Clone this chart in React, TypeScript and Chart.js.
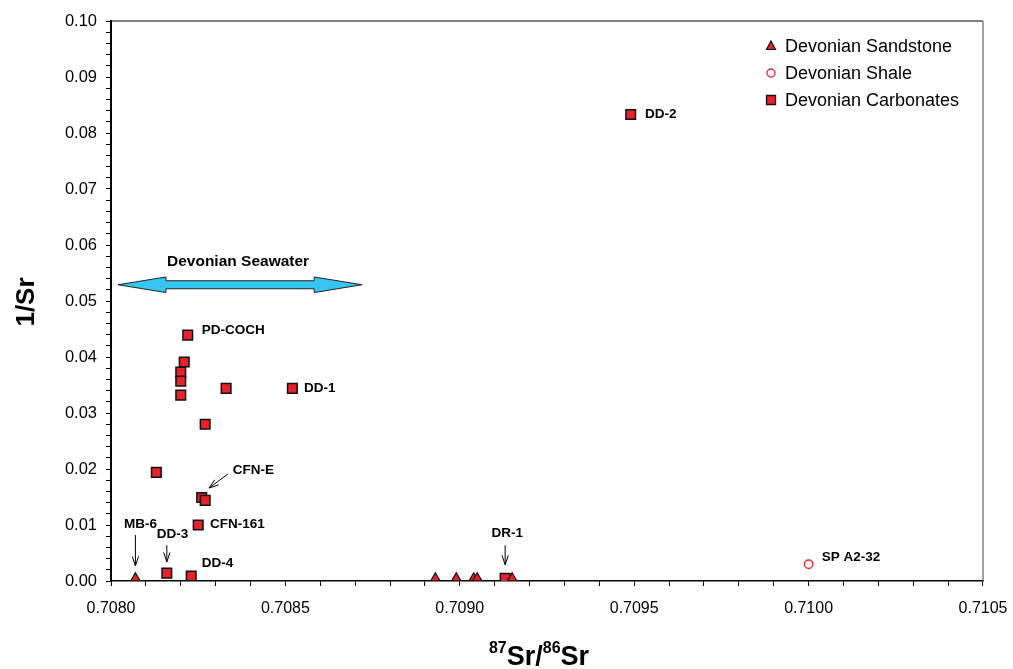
import React, { useEffect, useRef } from 'react';
import { Chart, registerables } from 'chart.js';

Chart.register(...registerables);

// ---- data ----
const sandstoneX = [0.70807, 0.70893, 0.70899, 0.70904, 0.70905, 0.70915];
const sandstoneY = [0.0005, 0.0005, 0.0005, 0.0005, 0.0005, 0.0005];

const shaleX = [0.7100];
const shaleY = [0.0030];

const carbonateX = [0.70822, 0.70821, 0.70820, 0.70820, 0.70820, 0.70833, 0.70852, 0.70827, 0.70813, 0.70826, 0.70827, 0.70825, 0.70816, 0.70823, 0.70949, 0.70913];
const carbonateY = [0.0439, 0.0391, 0.0373, 0.0357, 0.0332, 0.0344, 0.0344, 0.0280, 0.0194, 0.0149, 0.0144, 0.0100, 0.0014, 0.0009, 0.0833, 0.0005];

const seriesNames = ['Devonian Sandstone', 'Devonian Shale', 'Devonian Carbonates'];

const xTickLabels = ['0.7080', '0.7085', '0.7090', '0.7095', '0.7100', '0.7105'];
const yTickLabels = ['0.00', '0.01', '0.02', '0.03', '0.04', '0.05', '0.06', '0.07', '0.08', '0.09', '0.10'];

// point labels (text, anchored left at data coordinate)
const labelTexts = ['PD-COCH', 'DD-1', 'DD-2', 'CFN-E', 'CFN-161', 'MB-6', 'DD-3', 'DD-4', 'DR-1', 'SP A2-32'];
const labelX = [0.70826, 0.708553, 0.709531, 0.708349, 0.708284, 0.708037, 0.708131, 0.70826, 0.709091, 0.710038];
const labelY = [0.0448, 0.0345, 0.0833, 0.0197, 0.0102, 0.0101, 0.0084, 0.0032, 0.0085, 0.0043];

// pointer arrows (start -> end, data coordinates)
const arrowX1 = [0.708335, 0.70807, 0.70816, 0.70913];
const arrowY1 = [0.0191, 0.0082, 0.0064, 0.0064];
const arrowX2 = [0.708281, 0.70807, 0.70816, 0.70913];
const arrowY2 = [0.0166, 0.0027, 0.0034, 0.0029];

// Devonian seawater range
const seawaterText = 'Devonian Seawater';
const seawaterX = [0.70802, 0.70872];
const seawaterY = 0.0529;
const seawaterTextY = 0.0571;

const RED = '#E8212B';
const FONT = "'Liberation Sans', Arial, sans-serif";

function drawPointerArrow(ctx: CanvasRenderingContext2D, x1: number, y1: number, x2: number, y2: number) {
  ctx.save();
  ctx.strokeStyle = '#000';
  ctx.lineWidth = 1;
  ctx.beginPath();
  ctx.moveTo(x1, y1);
  ctx.lineTo(x2, y2);
  ctx.stroke();
  const ang = Math.atan2(y2 - y1, x2 - x1);
  const len = 10;
  const spread = 0.32;
  ctx.beginPath();
  ctx.moveTo(x2 - len * Math.cos(ang - spread), y2 - len * Math.sin(ang - spread));
  ctx.lineTo(x2, y2);
  ctx.lineTo(x2 - len * Math.cos(ang + spread), y2 - len * Math.sin(ang + spread));
  ctx.stroke();
  ctx.restore();
}

const decorPlugin = {
  id: 'decor',
  afterDraw(chart: any) {
    const { ctx, chartArea: a, scales } = chart;
    const xs = scales.x;
    const ys = scales.y;
    ctx.save();

    // frame top & right
    ctx.lineWidth = 1.2;
    ctx.strokeStyle = '#000';
    ctx.beginPath();
    ctx.moveTo(a.left, a.top);
    ctx.lineTo(a.right, a.top);
    ctx.stroke();
    ctx.strokeStyle = '#666';
    ctx.beginPath();
    ctx.moveTo(a.right, a.top);
    ctx.lineTo(a.right, a.bottom);
    ctx.stroke();

    // seawater double arrow
    const xl = xs.getPixelForValue(seawaterX[0]);
    const xr = xs.getPixelForValue(seawaterX[1]);
    const yc = ys.getPixelForValue(seawaterY);
    const head = 48;
    const hh = 7.8;
    const sh = 4;
    ctx.beginPath();
    ctx.moveTo(xl, yc);
    ctx.lineTo(xl + head, yc - hh);
    ctx.lineTo(xl + head, yc - sh);
    ctx.lineTo(xr - head, yc - sh);
    ctx.lineTo(xr - head, yc - hh);
    ctx.lineTo(xr, yc);
    ctx.lineTo(xr - head, yc + hh);
    ctx.lineTo(xr - head, yc + sh);
    ctx.lineTo(xl + head, yc + sh);
    ctx.lineTo(xl + head, yc + hh);
    ctx.closePath();
    ctx.fillStyle = '#35C5F0';
    ctx.fill();
    ctx.strokeStyle = '#222';
    ctx.lineWidth = 1;
    ctx.stroke();

    ctx.fillStyle = '#000';
    ctx.font = `bold 15.5px ${FONT}`;
    ctx.textAlign = 'center';
    ctx.textBaseline = 'middle';
    ctx.fillText(seawaterText, (xl + xr) / 2 - 2, ys.getPixelForValue(seawaterTextY));

    // point labels
    ctx.font = `bold 13.5px ${FONT}`;
    ctx.textAlign = 'left';
    for (let i = 0; i < labelTexts.length; i++) {
      ctx.fillText(labelTexts[i], xs.getPixelForValue(labelX[i]), ys.getPixelForValue(labelY[i]));
    }

    // pointer arrows
    for (let i = 0; i < arrowX1.length; i++) {
      drawPointerArrow(
        ctx,
        xs.getPixelForValue(arrowX1[i]),
        ys.getPixelForValue(arrowY1[i]),
        xs.getPixelForValue(arrowX2[i]),
        ys.getPixelForValue(arrowY2[i])
      );
    }

    // legend
    const lx = a.right - 212;
    const tx = a.right - 198;
    const ly = [a.top + 25, a.top + 52, a.top + 79];
    ctx.font = `18px ${FONT}`;
    ctx.textAlign = 'left';
    ctx.textBaseline = 'middle';
    for (let i = 0; i < seriesNames.length; i++) {
      ctx.fillStyle = '#000';
      ctx.fillText(seriesNames[i], tx, ly[i] + 1);
    }
    // triangle
    ctx.lineWidth = 1.2;
    ctx.beginPath();
    ctx.moveTo(lx, ly[0] - 5);
    ctx.lineTo(lx + 4.5, ly[0] + 3.5);
    ctx.lineTo(lx - 4.5, ly[0] + 3.5);
    ctx.closePath();
    ctx.fillStyle = RED;
    ctx.fill();
    ctx.strokeStyle = '#111';
    ctx.stroke();
    // circle
    ctx.beginPath();
    ctx.arc(lx, ly[1], 4, 0, Math.PI * 2);
    ctx.strokeStyle = RED;
    ctx.lineWidth = 1.3;
    ctx.stroke();
    // square
    ctx.beginPath();
    ctx.rect(lx - 4.5, ly[2] - 4.5, 9, 9);
    ctx.fillStyle = RED;
    ctx.fill();
    ctx.strokeStyle = '#111';
    ctx.lineWidth = 1.3;
    ctx.stroke();

    // y axis title
    ctx.save();
    ctx.translate(34, (a.top + a.bottom) / 2 + 1);
    ctx.rotate(-Math.PI / 2);
    ctx.font = `bold 26px ${FONT}`;
    ctx.fillStyle = '#000';
    ctx.textAlign = 'center';
    ctx.textBaseline = 'alphabetic';
    ctx.fillText('1/Sr', 0, 0);
    ctx.restore();

    // x axis title with superscripts
    const big = `bold 27px ${FONT}`;
    const small = `bold 16px ${FONT}`;
    const parts = [
      { t: '87', f: small, dy: -12 },
      { t: 'Sr/', f: big, dy: 0 },
      { t: '86', f: small, dy: -12 },
      { t: 'Sr', f: big, dy: 0 },
    ];
    let total = 0;
    for (const p of parts) {
      ctx.font = p.f;
      total += ctx.measureText(p.t).width;
    }
    let cx = 539 - total / 2;
    const base = 665;
    ctx.textAlign = 'left';
    ctx.textBaseline = 'alphabetic';
    ctx.fillStyle = '#000';
    for (const p of parts) {
      ctx.font = p.f;
      ctx.fillText(p.t, cx, base + p.dy);
      cx += ctx.measureText(p.t).width;
    }

    ctx.restore();
  },
};

export default function App() {
  const canvasRef = useRef<HTMLCanvasElement | null>(null);

  useEffect(() => {
    const canvas = canvasRef.current;
    if (!canvas) return;

    const toPts = (xa: number[], ya: number[]) => xa.map((v, i) => ({ x: v, y: ya[i] }));

    const chart = new Chart(canvas, {
      type: 'scatter',
      data: {
        datasets: [
          {
            label: seriesNames[0],
            data: toPts(sandstoneX, sandstoneY),
            pointStyle: 'triangle',
            pointRadius: 5.5,
            pointHoverRadius: 5.5,
            backgroundColor: RED,
            borderColor: '#111',
            borderWidth: 1.2,
          },
          {
            label: seriesNames[1],
            data: toPts(shaleX, shaleY),
            pointStyle: 'circle',
            pointRadius: 4.2,
            pointHoverRadius: 4.2,
            backgroundColor: 'rgba(255,255,255,0)',
            borderColor: RED,
            borderWidth: 1.3,
          },
          {
            label: seriesNames[2],
            data: toPts(carbonateX, carbonateY),
            pointStyle: 'rect',
            pointRadius: 6.8,
            pointHoverRadius: 6.8,
            backgroundColor: RED,
            borderColor: '#111',
            borderWidth: 1.5,
          },
        ],
      },
      options: {
        responsive: false,
        animation: false,
        devicePixelRatio: 1,
        layout: { padding: { left: 0, top: 21, right: 30, bottom: 0 } },
        plugins: {
          legend: { display: false },
          tooltip: { enabled: false },
          title: { display: false },
        },
        scales: {
          x: {
            type: 'linear',
            min: 0.708,
            max: 0.7105,
            afterFit: (scale: any) => {
              scale.height = 88;
              scale.paddingLeft = 0;
              scale.paddingRight = 0;
            },
            afterBuildTicks: (scale: any) => {
              const t = [];
              for (let i = 0; i <= 25; i++) t.push({ value: 0.708 + i * 0.0001 });
              scale.ticks = t;
            },
            ticks: {
              autoSkip: false,
              maxRotation: 0,
              minRotation: 0,
              padding: 13,
              color: '#000',
              font: { family: FONT, size: 16 },
              callback: (v: any) => {
                const k = Math.round((Number(v) - 0.708) / 0.0001);
                return k % 5 === 0 ? xTickLabels[k / 5] : '';
              },
            },
            grid: {
              drawOnChartArea: false,
              drawTicks: true,
              tickLength: 5,
              color: '#000',
              lineWidth: 1,
            },
            border: { display: true, color: '#000', width: 1.5 },
          },
          y: {
            type: 'linear',
            min: 0,
            max: 0.1,
            afterFit: (scale: any) => {
              scale.width = 111;
            },
            afterBuildTicks: (scale: any) => {
              const t = [];
              for (let i = 0; i <= 50; i++) t.push({ value: i * 0.002 });
              scale.ticks = t;
            },
            ticks: {
              autoSkip: false,
              padding: 9,
              color: '#000',
              font: { family: FONT, size: 16.5 },
              callback: (v: any) => {
                const k = Math.round(Number(v) / 0.002);
                return k % 5 === 0 ? yTickLabels[k / 5] : '';
              },
            },
            grid: {
              drawOnChartArea: false,
              drawTicks: true,
              tickLength: 5,
              color: '#000',
              lineWidth: 1,
            },
            border: { display: true, color: '#000', width: 2 },
          },
        },
      },
      plugins: [decorPlugin],
    });

    return () => chart.destroy();
  }, []);

  return (
    <div style={{ position: 'fixed', left: 0, top: 0, width: 1013, height: 669, background: '#fff' }}>
      <canvas ref={canvasRef} width={1013} height={669} style={{ display: 'block' }} />
    </div>
  );
}
